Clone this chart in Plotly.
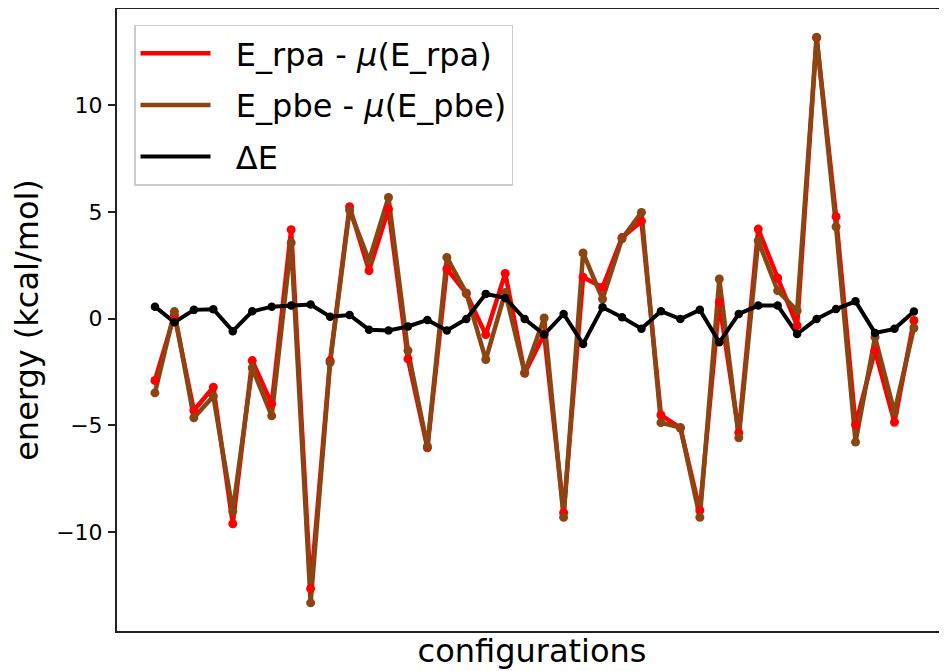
import plotly.graph_objects as go

configurations = list(range(40))

e_rpa = [-2.90, 0.16, -4.31, -3.22, -9.62, -1.97, -4.00, 4.17, -12.66, -1.97,
         5.25, 2.25, 5.14, -1.89, -6.06, 2.33, 1.18, -0.75, 2.12, -2.56,
         -0.72, -9.10, 1.94, 1.47, 3.80, 4.57, -4.52, -5.13, -9.00, 0.77,
         -5.35, 4.20, 1.91, -0.33, 13.17, 4.78, -4.98, -1.50, -4.86, -0.09]

e_pbe = [-3.48, 0.33, -4.65, -3.64, -9.04, -2.31, -4.56, 3.56, -13.33, -2.06,
         5.09, 2.72, 5.68, -1.50, -6.00, 2.87, 1.20, -1.92, 1.23, -2.54,
         0.03, -9.32, 3.08, 0.92, 3.74, 4.98, -4.88, -5.11, -9.32, 1.86,
         -5.59, 3.65, 1.31, 0.37, 13.19, 4.31, -5.79, -0.87, -4.39, -0.44]

delta_e = [0.56, -0.17, 0.41, 0.44, -0.59, 0.34, 0.56, 0.62, 0.66, 0.09,
           0.17, -0.52, -0.56, -0.37, -0.06, -0.56, -0.02, 1.16, 0.97, -0.02,
           -0.75, 0.22, -1.19, 0.53, 0.06, -0.47, 0.35, -0.02, 0.41, -1.11,
           0.22, 0.61, 0.61, -0.72, -0.02, 0.45, 0.81, -0.67, -0.48, 0.33]

PAD = "\u00a0\u00a0"
names = [PAD + "E_rpa - <i>μ</i>(E_rpa)", PAD + "E_pbe - <i>μ</i>(E_pbe)", PAD + "ΔE"]
series = [e_rpa, e_pbe, delta_e]
colors = ["#ff0000", "#8b4513", "#000000"]
widths = [4.5, 4.5, 4]
msizes = [9, 9, 8.5]

FONT = "DejaVu Sans"
fig = go.Figure()

for i, (nm, ys, c, w) in enumerate(zip(names, series, colors, widths)):
    fig.add_trace(go.Scatter(x=configurations, y=ys, mode="lines", name=nm,
                             line=dict(color=c, width=w), legendgroup=str(i)))
for ys, c, s in zip(series, colors, msizes):
    fig.add_trace(go.Scatter(x=configurations, y=ys, mode="markers", showlegend=False,
                             marker=dict(color=c, size=s)))

# the page body has an 8px margin, so the figure is sized to fill the window from there
fig.update_layout(
    width=939, height=663,
    margin=dict(l=109, r=0, t=1, b=40),
    plot_bgcolor="white", paper_bgcolor="white",
    font=dict(family=FONT, color="black"),
    showlegend=True,
    legend=dict(x=0.0205, y=0.975, xanchor="left", yanchor="top",
                bgcolor="white", bordercolor="#cccccc", borderwidth=1.5,
                font=dict(family=FONT, size=32, color="black"),
                itemwidth=70,
                tracegroupgap=7, traceorder="grouped"),
)
fig.update_xaxes(range=[-1.95, 40.70], showgrid=False, zeroline=False,
                 showticklabels=False, ticks="", showline=True, linecolor="#222222",
                 linewidth=2, mirror=True, automargin=False,
                 title=dict(text="configurations", font=dict(family=FONT, size=32), standoff=8))
fig.update_yaxes(range=[-14.65, 14.52], showgrid=False, zeroline=False,
                 tickvals=[-10, -5, 0, 5, 10], ticks="outside", ticklen=7, tickwidth=1.5,
                 tickcolor="#222222", tickfont=dict(family=FONT, size=22, color="black"),
                 ticklabelstandoff=1,
                 showline=True, linecolor="#222222", linewidth=2, mirror=False,
                 automargin=False,
                 title=dict(text="energy (kcal/mol)", font=dict(family=FONT, size=32), standoff=12))

fig.write_html("out.html")
